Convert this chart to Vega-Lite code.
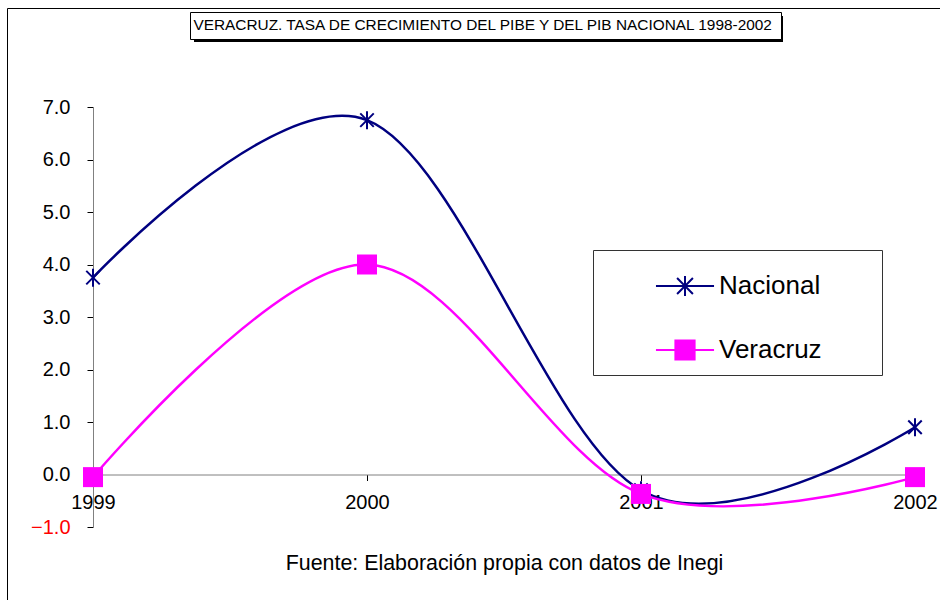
{
  "$schema": "https://vega.github.io/schema/vega-lite/v6.json",
  "width": 822,
  "height": 420,
  "autosize": "none",
  "padding": {"left": 93, "top": 107, "right": 25, "bottom": 73},
  "background": "white",
  "config": {
    "view": {"stroke": null},
    "font": "Liberation Sans",
    "axis": {"grid": false, "domainColor": "#808080", "tickColor": "#000000", "labelColor": "#000000", "labelFont": "Liberation Sans", "titleFont": "Liberation Sans"}
  },
  "datasets": {
    "tasas": [
      {"anio": 1999, "serie": "Nacional", "tasa": 3.75},
      {"anio": 2000, "serie": "Nacional", "tasa": 6.75},
      {"anio": 2001, "serie": "Nacional", "tasa": -0.3},
      {"anio": 2002, "serie": "Nacional", "tasa": 0.9},
      {"anio": 1999, "serie": "Veracruz", "tasa": -0.05},
      {"anio": 2000, "serie": "Veracruz", "tasa": 4.0},
      {"anio": 2001, "serie": "Veracruz", "tasa": -0.37},
      {"anio": 2002, "serie": "Veracruz", "tasa": -0.05}
    ],
    "titulo": [
      {"titulo": "VERACRUZ. TASA DE CRECIMIENTO DEL PIBE Y DEL PIB NACIONAL 1998-2002", "marco": "marco"}
    ]
  },
  "layer": [
    {
      "data": {"name": "tasas"},
      "mark": {"type": "line", "interpolate": "cardinal", "strokeWidth": 2.5},
      "encoding": {
        "x": {
          "field": "anio", "type": "quantitative",
          "scale": {"domain": [1999, 2002], "nice": false, "zero": false},
          "axis": {
            "orient": "bottom", "offset": -52.5, "values": [1999, 2000, 2001, 2002], "format": "d",
            "labelFontSize": 20, "labelPadding": 12, "tickSize": 6, "labelFlush": false, "labelOverlap": false,
            "title": "Fuente: Elaboración propia con datos de Inegi", "titleFontSize": 21.4, "titleFontWeight": "normal",
            "titleColor": "#000000", "titlePadding": 40
          }
        },
        "y": {
          "field": "tasa", "type": "quantitative",
          "scale": {"domain": [-1, 7], "nice": false, "zero": false},
          "axis": {
            "values": [-1, 0, 1, 2, 3, 4, 5, 6, 7], "format": ".1f", "title": null,
            "labelFontSize": 20, "labelPadding": 17, "tickSize": 6, "labelFlush": false, "labelOverlap": false,
            "labelColor": {"condition": {"test": "datum.value < 0", "value": "#FF0000"}, "value": "#000000"}
          }
        },
        "color": {
          "field": "serie", "type": "nominal",
          "scale": {"domain": ["Nacional", "Veracruz"], "range": ["#000080", "#FF00FF"]},
          "legend": {
            "orient": "none", "legendX": 500, "legendY": 143, "title": "Serie", "titleOrient": "right", "titleAngle": 0,
            "titleOpacity": 0, "titleFontSize": 20, "titlePadding": 0,
            "strokeColor": "#333333", "fillColor": "#FFFFFF", "padding": 11,
            "symbolSize": 2304, "symbolStrokeWidth": 2, "symbolOffset": 56, "labelOffset": 9, "rowPadding": 24,
            "symbolOpacity": 1,
            "labelFontSize": 26, "labelFont": "Liberation Sans", "labelColor": "#000000", "labelLimit": 1000
          }
        }
      }
    },
    {
      "data": {"name": "tasas"},
      "mark": {"type": "point", "filled": true, "opacity": 0, "strokeWidth": 2},
      "encoding": {
        "color": {"field": "serie", "type": "nominal",
          "legend": {
            "orient": "none", "legendX": 500, "legendY": 143, "title": "Serie", "titleOrient": "right", "titleAngle": 0,
            "titleOpacity": 0, "titleFontSize": 20, "titlePadding": 0,
            "strokeColor": "#333333", "fillColor": "#FFFFFF", "padding": 11,
            "symbolSize": 2304, "symbolStrokeWidth": 2, "symbolOffset": 56, "labelOffset": 9, "rowPadding": 24,
            "symbolOpacity": 1,
            "labelFontSize": 26, "labelFont": "Liberation Sans", "labelColor": "#000000", "labelLimit": 1000
          }
        },
        "shape": {
          "field": "serie", "type": "nominal",
          "scale": {"domain": ["Nacional", "Veracruz"], "range": [
            "M-1.21,0L1.21,0M0,-0.42L0,0.42M-0.33,-0.33L0.33,0.33M-0.33,0.33L0.33,-0.33",
            "M-1.21,0L1.21,0M-0.4,-0.4L0.4,-0.4L0.4,0.4L-0.4,0.4Z"
          ]},
          "legend": {
            "orient": "none", "legendX": 500, "legendY": 143, "title": "Serie", "titleOrient": "right", "titleAngle": 0,
            "titleOpacity": 0, "titleFontSize": 20, "titlePadding": 0,
            "strokeColor": "#333333", "fillColor": "#FFFFFF", "padding": 11,
            "symbolSize": 2304, "symbolStrokeWidth": 2, "symbolOffset": 56, "labelOffset": 9, "rowPadding": 24,
            "symbolOpacity": 1,
            "labelFontSize": 26, "labelFont": "Liberation Sans", "labelColor": "#000000", "labelLimit": 1000
          }
        },
        "stroke": {
          "field": "serie", "type": "nominal",
          "scale": {"domain": ["Nacional", "Veracruz"], "range": ["#000080", "#FF00FF"]},
          "legend": {
            "orient": "none", "legendX": 500, "legendY": 143, "title": "Serie", "titleOrient": "right", "titleAngle": 0,
            "titleOpacity": 0, "titleFontSize": 20, "titlePadding": 0,
            "strokeColor": "#333333", "fillColor": "#FFFFFF", "padding": 11,
            "symbolSize": 2304, "symbolStrokeWidth": 2, "symbolOffset": 56, "labelOffset": 9, "rowPadding": 24,
            "symbolOpacity": 1,
            "labelFontSize": 26, "labelFont": "Liberation Sans", "labelColor": "#000000", "labelLimit": 1000
          }
        }
      }
    },
    {
      "data": {"name": "tasas"},
      "transform": [{"filter": "datum.serie === 'Nacional'"}],
      "mark": {"type": "point", "filled": false, "color": "#000080", "strokeWidth": 2, "size": 324, "opacity": 1,
        "shape": "M0,-1L0,1M-0.75,-0.75L0.75,0.75M-0.75,0.75L0.75,-0.75"},
      "encoding": {
        "x": {"field": "anio", "type": "quantitative"},
        "y": {"field": "tasa", "type": "quantitative"}
      }
    },
    {
      "data": {"name": "tasas"},
      "transform": [{"filter": "datum.serie === 'Veracruz'"}],
      "mark": {"type": "point", "filled": true, "color": "#FF00FF", "size": 400, "opacity": 1, "shape": "square", "strokeWidth": 0},
      "encoding": {
        "x": {"field": "anio", "type": "quantitative"},
        "y": {"field": "tasa", "type": "quantitative"}
      }
    },
    {
      "data": {"name": "titulo"},
      "mark": {"type": "point", "opacity": 0, "size": 0},
      "encoding": {
        "fill": {
          "field": "titulo", "type": "quantitative",
          "scale": {"domain": [0, 1], "range": ["#000000", "#000000"]},
          "legend": {
            "orient": "none", "legendX": 101, "legendY": -91, "title": null, "direction": "horizontal",
            "gradientLength": 589, "gradientThickness": 26, "gradientStrokeColor": "#000000", "gradientStrokeWidth": 0,
            "padding": 0, "labelExpr": "''", "labelFontSize": 1
          }
        }
      }
    },
    {
      "data": {"name": "titulo"},
      "mark": {"type": "point", "opacity": 0, "size": 0},
      "encoding": {
        "strokeDash": {
          "field": "titulo", "type": "nominal",
          "legend": {
            "orient": "none", "legendX": 97, "legendY": -95, "title": null,
            "strokeColor": "#000000", "fillColor": "#FFFFFF", "padding": 5,
            "symbolSize": 0, "symbolOpacity": 0, "symbolStrokeWidth": 0, "symbolOffset": 0, "labelOffset": -17,
            "labelFontSize": 15.4, "labelFont": "Liberation Sans", "labelColor": "#000000", "labelLimit": 1000
          }
        }
      }
    },
    {
      "data": {"name": "titulo"},
      "mark": {"type": "point", "opacity": 0, "size": 0},
      "encoding": {
        "strokeWidth": {
          "field": "marco", "type": "ordinal",
          "legend": {
            "orient": "none", "legendX": -86, "legendY": -99, "title": null,
            "strokeColor": "#000000", "padding": 480,
            "symbolSize": 0, "symbolOpacity": 0, "symbolStrokeWidth": 0,
            "labelExpr": "''", "labelFontSize": 1
          }
        }
      }
    }
  ]
}
